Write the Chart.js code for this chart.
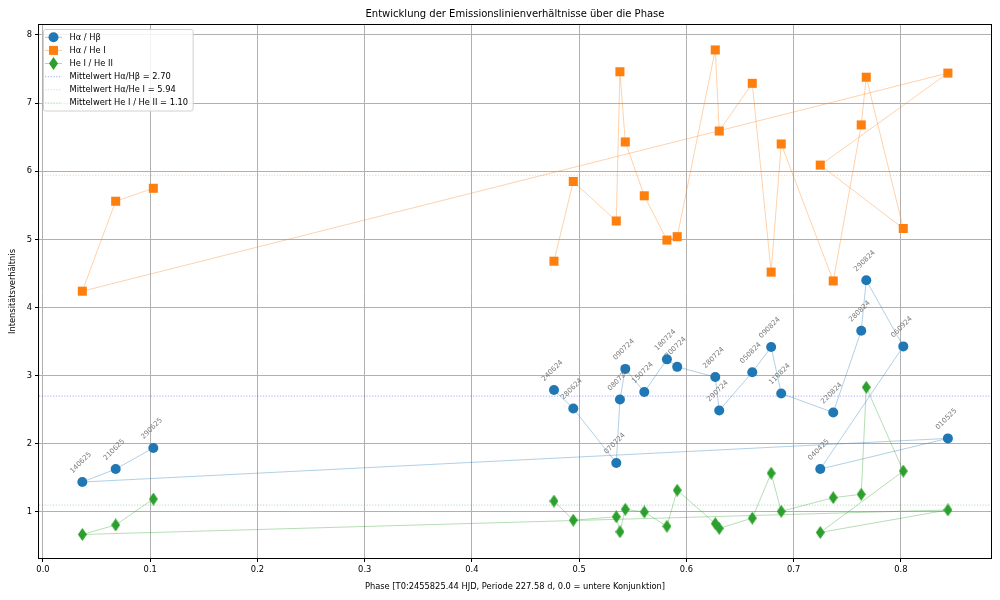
<!DOCTYPE html>
<html><head><meta charset="utf-8">
<script src="https://cdn.jsdelivr.net/npm/chart.js@4/dist/chart.umd.min.js"></script>
<style>html,body{margin:0;padding:0;background:#fff}</style>
</head><body>
<canvas id="c" width="1000" height="600" style="width:1000px;height:600px;display:block"></canvas>
<script>
// ---- data ----
const dates   = ['240624','280624','070724','080724','090724','150724','180724','200724','280724','290724','050824','090824','110824','220824','280824','290824','060924','040425','010525','140625','210625','290625'];
const phases  = [0.4765,0.4945,0.5346,0.5380,0.5430,0.5607,0.5818,0.5914,0.6269,0.6306,0.6614,0.6790,0.6884,0.7369,0.7630,0.7677,0.8022,0.7248,0.8438,0.0367,0.0678,0.1029];
const haHb    = [2.79,2.52,1.72,2.65,3.10,2.76,3.24,3.13,2.98,2.49,3.05,3.42,2.74,2.46,3.66,4.40,3.43,1.63,2.08,1.44,1.63,1.94];
const haHeI   = [4.68,5.85,5.27,7.46,6.43,5.64,4.99,5.04,7.78,6.59,7.29,4.52,6.40,4.39,6.68,7.38,5.16,6.09,7.44,4.24,5.56,5.75];
const heIheII = [1.16,0.88,0.93,0.71,1.04,1.00,0.79,1.32,0.83,0.76,0.91,1.57,1.01,1.21,1.26,2.83,1.60,0.70,1.03,0.67,0.81,1.19];
const seriesNames = ['Hα / Hβ','Hα / He I','He I / He II'];
const meanValues  = [2.70, 5.94, 1.10];
const meanNames   = ['Mittelwert Hα/Hβ = 2.70','Mittelwert Hα/He I = 5.94','Mittelwert He I / He II = 1.10'];
const xTicks = [0.0,0.1,0.2,0.3,0.4,0.5,0.6,0.7,0.8];
const yTicks = [1,2,3,4,5,6,7,8];
const titleText = 'Entwicklung der Emissionslinienverhältnisse über die Phase';
const xLabel = 'Phase [T0:2455825.44 HJD, Periode 227.58 d, 0.0 = untere Konjunktion]';
const yLabel = 'Intensitätsverhältnis';

// ---- styles ----
const FONT = 'DejaVu Sans';
const colors = ['#1f77b4','#ff7f0e','#2ca02c'];
const lineColors = ['rgba(31,119,180,0.5)','rgba(255,127,14,0.5)','rgba(44,160,44,0.5)'];
const meanColors = ['rgba(0,0,255,0.28)','rgba(255,127,14,0.28)','rgba(44,160,44,0.28)'];

function thinDiamond(w,h,color){
  const c=document.createElement('canvas'); c.width=w; c.height=h;
  const g=c.getContext('2d'); g.fillStyle=color; g.beginPath();
  g.moveTo(w/2,0); g.lineTo(w,h/2); g.lineTo(w/2,h); g.lineTo(0,h/2); g.closePath(); g.fill();
  return c;
}
const diamondImg = thinDiamond(9,13,colors[2]);
const pointStyles = ['circle','rect',diamondImg];
const pointRadii = [5,6.4,6];

function pts(vals){ return phases.map((p,i)=>({x:p,y:vals[i]})); }
const seriesVals = [haHb, haHeI, heIheII];

const datasets = seriesVals.map((v,k)=>({
  label: seriesNames[k],
  data: pts(v),
  showLine: true,
  borderColor: lineColors[k],
  borderWidth: 0.7,
  backgroundColor: colors[k],
  pointBackgroundColor: colors[k],
  pointBorderColor: colors[k],
  pointBorderWidth: 0,
  pointStyle: pointStyles[k],
  pointRadius: pointRadii[k],
  pointHoverRadius: pointRadii[k],
  tension: 0
}));

const meanLinesPlugin = {
  id:'meanLines',
  beforeDatasetsDraw(chart){
    const {ctx, chartArea:a, scales:{y}} = chart;
    ctx.save();
    ctx.beginPath(); ctx.rect(a.left,a.top,a.right-a.left,a.bottom-a.top); ctx.clip();
    meanValues.forEach((m,k)=>{
      const py = y.getPixelForValue(m);
      ctx.strokeStyle = meanColors[k]; ctx.lineWidth = 1.3; ctx.setLineDash([1.2,1.6]);
      ctx.beginPath(); ctx.moveTo(a.left,py); ctx.lineTo(a.right,py); ctx.stroke();
    });
    ctx.restore();
  }
};

const framePlugin = {
  id:'frame',
  afterDraw(chart){
    const {ctx, chartArea:a} = chart;
    ctx.save();
    ctx.strokeStyle='#000'; ctx.lineWidth=1; ctx.setLineDash([]);
    ctx.strokeRect(Math.round(a.left)-0.5, Math.round(a.top)-0.5, Math.round(a.right-a.left)+1, Math.round(a.bottom-a.top)+1);
    ctx.fillStyle='#000'; ctx.font='10px "'+FONT+'"'; ctx.textAlign='center'; ctx.textBaseline='middle';
    ctx.fillText(titleText,(a.left+a.right)/2,14);
    ctx.restore();
  }
};

const annotPlugin = {
  id:'annot',
  afterDatasetsDraw(chart){
    const {ctx} = chart;
    const meta = chart.getDatasetMeta(0);
    ctx.save();
    ctx.font='7px "'+FONT+'"'; ctx.fillStyle='rgba(100,100,100,0.85)';
    ctx.textAlign='center'; ctx.textBaseline='middle';
    meta.data.forEach((el,i)=>{
      const w = ctx.measureText(dates[i]).width, h = 8.2;
      const H = (w+h)/Math.SQRT2;
      ctx.save();
      ctx.translate(el.x-1.5, el.y-7-H/2);
      ctx.rotate(-Math.PI/4);
      ctx.fillText(dates[i],0,0);
      ctx.restore();
    });
    ctx.restore();
  }
};

const legendPlugin = {
  id:'customLegend',
  afterDraw(chart){
    const {ctx} = chart;
    ctx.save();
    ctx.font='8.3px "'+FONT+'"';
    const names = seriesNames.concat(meanNames);
    const maxW = Math.max(...names.map(n=>ctx.measureText(n).width));
    const x0=43.5, y0=29.5, textX=69.5, rowH=13.1, firstY=37.3;
    const w = textX + maxW + 5 - x0, h = 81.5;
    ctx.fillStyle='rgba(255,255,255,0.85)'; ctx.strokeStyle='#d0d0d0'; ctx.lineWidth=1;
    ctx.beginPath(); ctx.roundRect(x0,y0,w,h,2); ctx.fill(); ctx.stroke();
    names.forEach((n,i)=>{
      const yy = firstY + i*rowH;
      if(i<3){
        ctx.strokeStyle=lineColors[i]; ctx.lineWidth=0.8; ctx.setLineDash([]);
        ctx.beginPath(); ctx.moveTo(45,yy); ctx.lineTo(62,yy); ctx.stroke();
        ctx.fillStyle=colors[i];
        if(i===0){ ctx.beginPath(); ctx.arc(53.5,yy,5,0,Math.PI*2); ctx.fill(); }
        else if(i===1){ ctx.fillRect(53.5-4.5,yy-4.5,9,9); }
        else { ctx.drawImage(diamondImg,53.5-4.5,yy-6.5); }
      } else {
        ctx.strokeStyle=meanColors[i-3]; ctx.lineWidth=1.3; ctx.setLineDash([1.2,1.6]);
        ctx.beginPath(); ctx.moveTo(45,yy); ctx.lineTo(62,yy); ctx.stroke();
        ctx.setLineDash([]);
      }
      ctx.fillStyle='#000'; ctx.textAlign='left'; ctx.textBaseline='middle';
      ctx.fillText(n,textX,yy+0.5);
    });
    ctx.restore();
  }
};

const tickFont = {family:FONT, size:8.3};
new Chart(document.getElementById('c'), {
  type:'scatter',
  data:{datasets},
  options:{
    responsive:false, animation:false, devicePixelRatio:1,
    layout:{padding:{top:25,right:9,left:0,bottom:0}},
    plugins:{legend:{display:false}, title:{display:false}, tooltip:{enabled:false}},
    scales:{
      x:{type:'linear', min:-0.0037, max:0.884,
        afterBuildTicks:s=>{ s.ticks = xTicks.map(v=>({value:v})); },
        afterFit:s=>{ s.height=42; },
        ticks:{callback:v=>Number(v).toFixed(1), font:tickFont, color:'#000', padding:3, autoSkip:false, maxRotation:0},
        grid:{color:'#b0b0b0', lineWidth:1, tickLength:4, tickColor:'#000', drawTicks:true},
        border:{display:false},
        title:{display:true, text:xLabel, font:tickFont, color:'#000', padding:{top:4,bottom:8}}
      },
      y:{type:'linear', min:0.325, max:8.146,
        afterBuildTicks:s=>{ s.ticks = yTicks.map(v=>({value:v})); },
        afterFit:s=>{ s.width=39; },
        ticks:{callback:v=>String(v), font:tickFont, color:'#000', padding:3, autoSkip:false},
        grid:{color:'#b0b0b0', lineWidth:1, tickLength:4, tickColor:'#000', drawTicks:true},
        border:{display:false},
        title:{display:true, text:yLabel, font:tickFont, color:'#000', padding:{top:8,bottom:4}}
      }
    }
  },
  plugins:[meanLinesPlugin, annotPlugin, legendPlugin, framePlugin]
});
</script>
</body></html>
